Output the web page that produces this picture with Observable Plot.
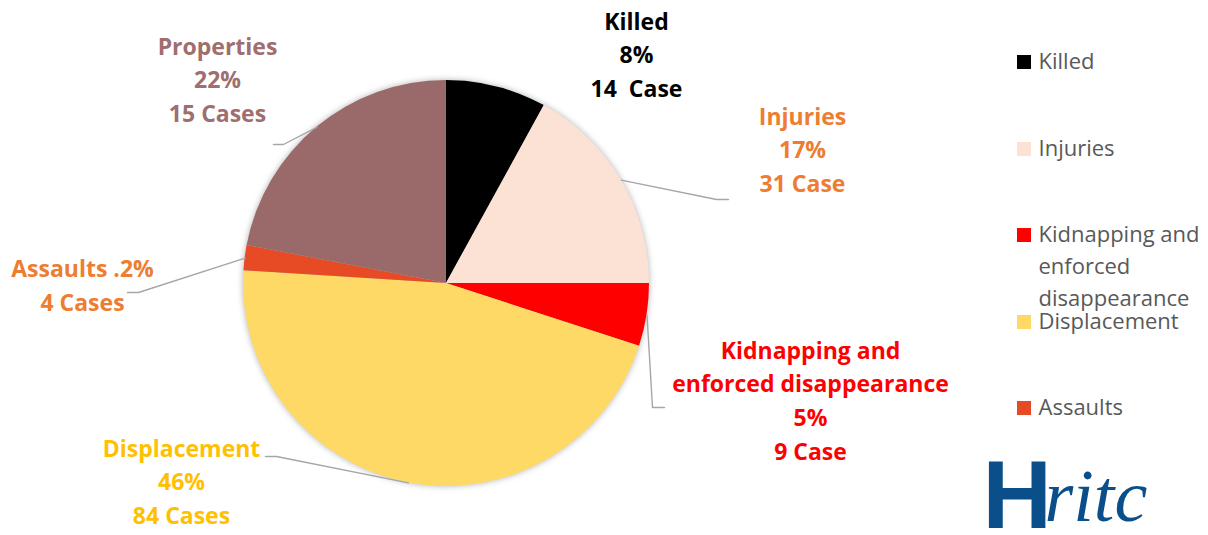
<!DOCTYPE html>
<html>
<head>
<meta charset="utf-8">
<script src="https://cdn.jsdelivr.net/npm/d3@7"></script>
<script src="https://cdn.jsdelivr.net/npm/@observablehq/plot@0.6"></script>
<style>
  html, body { margin: 0; padding: 0; background: #fff; }
  #chart { width: 1208px; height: 535px; }
</style>
</head>
<body>
<div id="chart"></div>
<script>
// ---- Data ----
const categories = ["Killed", "Injuries", "Kidnapping and enforced disappearance", "Displacement", "Assaults", "Properties"];
const percents = [8, 17, 5, 46, 2, 22];
const cases = [14, 31, 9, 84, 4, 15];
const labelTexts = [
  "Killed\n8%\n14\u00a0 Case",
  "Injuries\n17%\n31 Case",
  "Kidnapping and\nenforced disappearance\n5%\n9 Case",
  "Displacement\n46%\n84 Cases",
  "Assaults .2%\n4 Cases",
  "Properties\n22%\n15 Cases"
];
const legendNames = ["Killed", "Injuries", "Kidnapping and\nenforced\ndisappearance", "Displacement", "Assaults"];

// ---- Styles ----
const sliceFills = ["#000000", "#FBE2D5", "#FF0000", "#FFD966", "#E64B26", "#9A6A6A"];
const labelColors = ["#000000", "#ED7D31", "#FF0000", "#FFC000", "#ED7D31", "#A06E6E"];

// ---- Layout (pixels) ----
const W = 1208, H = 535;
const pieCenter = [446, 283];
const pieRadius = 203;
const labelCenters = [[636, 52], [802, 147], [810, 398], [181, 479], [82, 283], [217, 77]];
const leaderEnds = [null, [[716, 199], [728, 199]], [[652, 407], [664, 407]], [[276, 456], [265, 456]], [[138, 292], [127, 292]], [[283, 144], [273, 144]]];
const legendX = 1017, legendTextX = 1038;
const legendRowY = [62, 149, 235, 322, 408];

// derived: slice mid angles (from the data)
const pieArcs = d3.pie().sort(null).value(d => d)(percents);
const leaderRows = [];
pieArcs.forEach((a, i) => {
  if (!leaderEnds[i]) return;
  const mid = (a.startAngle + a.endAngle) / 2;
  leaderRows.push({name: categories[i], x: pieCenter[0] + pieRadius * Math.sin(mid), y: pieCenter[1] - pieRadius * Math.cos(mid)});
  for (const [x, y] of leaderEnds[i]) leaderRows.push({name: categories[i], x, y});
});
const labels = labelTexts.map((t, i) => ({text: t, x: labelCenters[i][0], y: labelCenters[i][1], color: labelColors[i]}));
const legend = legendNames.map((n, i) => ({name: n, y: legendRowY[i], fill: sliceFills[i]}));

function pieMark(index, scales, values, dimensions, context) {
  const sx = typeof scales.x === "function" ? scales.x : v => v;
  const sy = typeof scales.y === "function" ? scales.y : v => v;
  const cx = sx(pieCenter[0]), cy = sy(pieCenter[1]);
  const r = Math.abs(sx(pieCenter[0] + pieRadius) - cx);
  const arc = d3.arc().innerRadius(0).outerRadius(r);
  const g = d3.create("svg:g")
    .attr("transform", `translate(${cx},${cy})`)
    .style("filter", "drop-shadow(0px 0px 3px rgba(0,0,0,0.30))");
  g.selectAll("path").data(pieArcs).join("path")
    .attr("d", arc)
    .attr("fill", (d, i) => sliceFills[i]);
  return g.node();
}

const fs = 22;
const chart = Plot.plot({
  width: W,
  height: H,
  margin: 0,
  x: {domain: [0, W], range: [0, W], axis: null},
  y: {domain: [0, H], range: [0, H], axis: null},
  style: {background: "#fff", fontFamily: "'Open Sans', sans-serif", overflow: "visible"},
  marks: [
    pieMark,
    Plot.line(leaderRows, {x: "x", y: "y", z: "name", stroke: "#A6A6A6", strokeWidth: 1.4, curve: "linear"}),
    Plot.text(labels, {x: "x", y: "y", text: "text", fill: "color", fontSize: 23, fontWeight: "bold", lineHeight: 1.47, lineAnchor: "middle", textAnchor: "middle"}),
    Plot.rect(legend, {x1: legendX, x2: legendX + 14, y1: d => d.y - 7, y2: d => d.y + 7, fill: "fill"}),
    Plot.text(legend, {x: legendTextX, y: "y", text: "name", fill: "#595959", fontSize: fs, textAnchor: "start", lineAnchor: "top", dy: -0.5 * fs - 5, lineHeight: 1.45}),
    Plot.text(["H"], {x: 982, y: 497, text: d => d, fill: "#0B4F8A", fontSize: 96, fontWeight: "bold", fontFamily: "Liberation Sans", textAnchor: "start", lineAnchor: "middle"}),
    Plot.text(["ritc"], {x: 1044, y: 497, text: d => d, fill: "#0B4F8A", fontSize: 74, fontStyle: "italic", fontFamily: "Liberation Serif", textAnchor: "start", lineAnchor: "middle"})
  ]
});
document.getElementById("chart").appendChild(chart);
</script>
</body>
</html>
